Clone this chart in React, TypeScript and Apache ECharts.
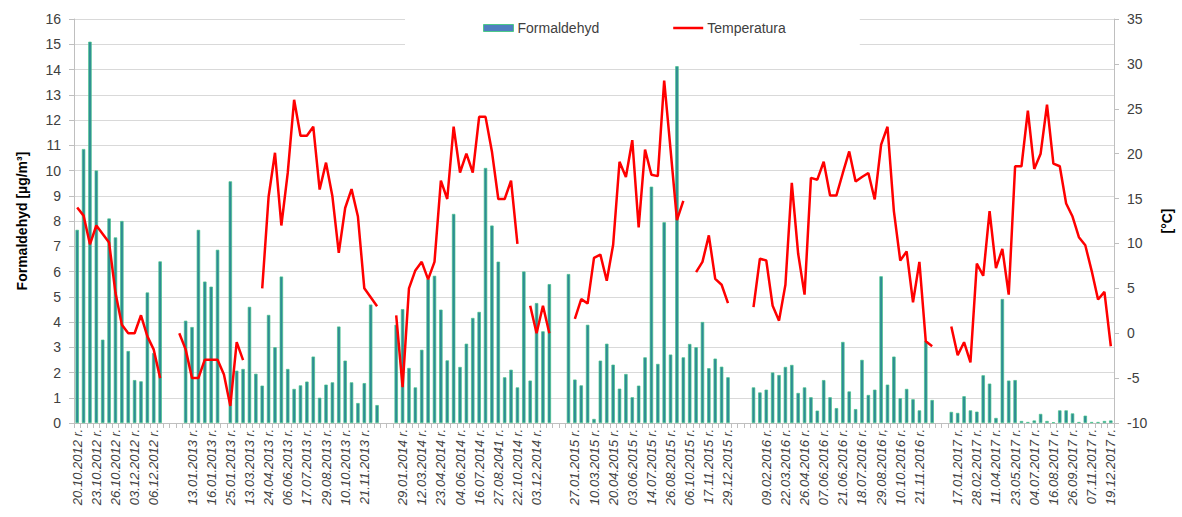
import React, { useEffect, useRef } from "react";
import * as echarts from "echarts";

// Tick labels shown on every third category ("" where no label is printed)
const tickLabels: string[] = [
  "20.10.2012 r.", "23.10.2012 r.", "26.10.2012 r.", "03.12.2012 r.", "06.12.2012 r.", "",
  "13.01.2013 r.", "16.01.2013 r.", "25.01.2013 r.", "13.03.2013 r.", "24.04.2013 r.", "06.06.2013 r.",
  "17.07.2013 r.", "29.08.2013 r.", "10.10.2013 r.", "21.11.2013 r.", "",
  "29.01.2014 r.", "12.03.2014 r.", "23.04.2014 r.", "04.06.2014 r.", "16.07.2014 r.", "27.08.2041 r.",
  "22.10.2014 r.", "03.12.2014 r.", "",
  "27.01.2015 r.", "10.03.2015 r.", "20.04.2015 r.", "03.06.2015 r.", "14.07.2015 r.", "26.08.2015 r.",
  "06.10.2015 r.", "17.11.2015 r.", "29.12.2015 r.", "",
  "09.02.2016 r.", "22.03.2016 r.", "26.04.2016 r.", "07.06.2016 r.", "21.06.2016 r.", "18.07.2016 r.",
  "29.08.2016 r,", "10.10.2016 r.", "21.11.2016 r.", "",
  "17.01.2017 r.", "28.02.2017 r.", "11.04.2017 r.", "23.05.2017 r.", "04.07.2017 r.", "16.08.2017 r.",
  "26.09.2017 r.", "07.11.2017 r.", "19.12.2017 r.",
];

const N = 163;
const categories: string[] = Array.from({ length: N }, (_, i) =>
  i % 3 === 0 ? tickLabels[i / 3] ?? "" : ""
);

// Formaldehyd [µg/m³]
const formaldehyd: (number | null)[] = [
  // 2012
  7.65, 10.85, 15.1, 10.0, 3.3, 8.1, 7.35, 8.0, 2.85, 1.7, 1.65, 5.17, 2.77, 6.4,
  null, null, null,
  // 2013
  4.05, 3.8, 7.65, 5.6, 5.4, 6.86, null, 9.57, 2.07, 2.14, 4.6, 1.95, 1.48, 4.28, 3.0, 5.8,
  2.14, 1.35, 1.49, 1.64, 2.63, 1.0, 1.52, 1.61, 3.82, 2.47, 1.61, 0.79, 1.58, 4.69, 0.71,
  null, null,
  // 2014
  3.89, 4.51, 2.18, 1.41, 2.9, 5.7, 5.83, 4.49, 2.48, 8.28, 2.22, 3.14, 4.16, 4.4, 10.1,
  7.82, 6.39, 1.81, 2.11, 1.41, 6.0, 1.68, 4.75, 3.63, 5.5,
  null, null,
  // 2015
  5.9, 1.72, 1.49, 3.89, 0.16, 2.47, 3.14, 2.31, 1.36, 1.94, 1.02, 1.48, 2.6, 9.36, 2.34,
  7.95, 2.71, 14.13, 2.6, 3.13, 3.0, 4.0, 2.17, 2.55, 2.23, 1.81,
  null, null, null,
  // 2016
  1.41, 1.21, 1.32, 2.0, 1.9, 2.22, 2.3, 1.19, 1.41, 1.02, 0.49, 1.7, 1.02, 0.59, 3.21,
  1.25, 0.55, 2.5, 1.11, 1.32, 5.81, 1.52, 2.63, 0.98, 1.35, 0.94, 0.5, 3.25, 0.91,
  null, null,
  // 2017
  0.44, 0.4, 1.06, 0.5, 0.45, 1.89, 1.56, 0.2, 4.91, 1.68, 1.7, 0.08, 0.04, 0.1, 0.36,
  0.08, 0.03, 0.5, 0.5, 0.38, 0.04, 0.29, 0.04, 0.04, 0.08, 0.1,
];

// Temperatura [°C]
const temperatura: (number | null)[] = [
  // 2012
  14.0, 13.1, 9.9, 12.0, 11.05, 10.1, 4.5, 0.95, 0.0, 0.0, 2.0, -0.35, -1.83, -5.0,
  null, null,
  // 2013
  0.0, -1.8, -5.0, -5.0, -2.95, -2.95, -2.95, -4.6, -8.1, -1.0, -3.0,
  null, null,
  5.0, 15.2, 20.1, 12.0, 17.85, 26.0, 22.0, 22.0, 23.0, 16.0, 19.0, 15.25, 8.95, 13.95,
  16.05, 13.0, 5.0, 4.0, 3.0,
  null, null,
  // 2014
  2.0, -6.0, 5.0, 7.0, 7.95, 6.0, 7.95, 17.0, 14.95, 23.0, 17.9, 20.0, 17.9, 24.1, 24.1,
  20.25, 14.95, 14.95, 17.0, 9.95,
  null,
  3.05, 0.0, 3.05, 0.0,
  null, null, null,
  // 2015
  1.6, 3.8, 3.3, 8.4, 8.75, 5.85, 9.85, 19.1, 17.4, 21.5, 11.8, 20.45, 17.65, 17.5, 28.15,
  20.45, 12.6, 14.75,
  null,
  6.8, 7.95, 10.9, 6.05, 5.4, 3.35,
  null, null, null,
  // 2016
  2.9, 8.3, 8.1, 3.05, 1.4, 5.4, 16.75, 8.85, 4.3, 17.3, 17.1, 19.1, 15.35, 15.35, 17.85,
  20.25, 16.9, 17.4, 17.85, 14.9, 21.0, 23.0, 13.6, 8.1, 9.1, 3.45, 7.95, -0.9, -1.45,
  null, null,
  // 2017
  0.75, -2.45, -1.0, -3.25, 7.75, 6.4, 13.6, 7.25, 9.4, 4.3, 18.6, 18.6, 24.8, 18.3, 20.0,
  25.45, 18.9, 18.6, 14.45, 13.0, 10.7, 9.8, 6.95, 3.75, 4.6, -1.45,
];

const FONT = "'Liberation Sans', Arial, sans-serif";
const TEXT = "#404040";
const AXIS = "#bfbfbf";

export default function App() {
  const ref = useRef<HTMLDivElement>(null);
  useEffect(() => {
    if (!ref.current) return;
    const chart = echarts.init(ref.current, undefined, { renderer: "svg" });
    chart.setOption({
      animation: false,
      backgroundColor: "#fff",
      textStyle: { fontFamily: FONT },
      grid: { left: 74, right: 59, top: 19, bottom: 94, containLabel: false },
      legend: {
        data: [
          {
            name: "Formaldehyd",
            icon: "rect",
            itemStyle: { color: "#4f7fbf", borderColor: "#4cc98a", borderWidth: 1 },
          },
          {
            name: "Temperatura",
            icon: "path://M0,0 L30,0 L30,2.5 L0,2.5 Z",
            itemStyle: { color: "#ff0000", borderWidth: 0 },
          },
        ],
        left: 405,
        top: 14,
        padding: [7, 74, 11, 78],
        backgroundColor: "#ffffff",
        itemWidth: 30,
        itemHeight: 7,
        itemGap: 74,
        symbolKeepAspect: true,
        textStyle: { fontSize: 14, color: TEXT, fontFamily: FONT, padding: [0, 0, 0, -1] },
      },
      xAxis: {
        type: "category",
        data: categories,
        boundaryGap: true,
        axisLine: { show: true, lineStyle: { color: AXIS, width: 1 } },
        axisTick: { show: true, interval: 0, length: 5, lineStyle: { color: AXIS } },
        axisLabel: {
          interval: 2,
          rotate: 90,
          fontStyle: "italic",
          fontSize: 13,
          color: TEXT,
          margin: 6,
          fontFamily: FONT,
        },
        splitLine: { show: false },
      },
      yAxis: [
        {
          type: "value",
          min: 0,
          max: 16,
          interval: 1,
          name: "Formaldehyd [µg/m³]",
          nameLocation: "middle",
          nameRotate: 90,
          nameGap: 45,
          nameTextStyle: { fontSize: 14, fontWeight: "bold", color: "#000", fontFamily: FONT },
          axisLine: { show: true, lineStyle: { color: AXIS } },
          axisTick: { show: true, length: 5, lineStyle: { color: AXIS } },
          axisLabel: { fontSize: 14, color: TEXT, margin: 13, fontFamily: FONT },
          splitLine: { show: true, lineStyle: { color: "#d9d9d9", width: 1 } },
        },
        {
          type: "value",
          position: "right",
          min: -10,
          max: 35,
          interval: 5,
          name: "[°C]",
          nameLocation: "middle",
          nameRotate: 90,
          nameGap: 46,
          nameTextStyle: { fontSize: 14, fontWeight: "bold", color: "#000", fontFamily: FONT },
          axisLine: { show: true, lineStyle: { color: AXIS } },
          axisTick: { show: true, length: 5, lineStyle: { color: AXIS } },
          axisLabel: { fontSize: 14, color: TEXT, margin: 13, fontFamily: FONT },
          splitLine: { show: false },
        },
      ],
      series: [
        {
          name: "Formaldehyd",
          type: "bar",
          yAxisIndex: 0,
          data: formaldehyd,
          barWidth: 3.4,
          itemStyle: { color: "#2f8a96", borderColor: "#45c488", borderWidth: 0.7 },
        },
        {
          name: "Temperatura",
          type: "line",
          yAxisIndex: 1,
          data: temperatura,
          symbol: "none",
          showSymbol: false,
          connectNulls: false,
          lineStyle: { color: "#ff0000", width: 2.5 },
          itemStyle: { color: "#ff0000" },
          z: 3,
        },
      ],
    });
    return () => chart.dispose();
  }, []);
  return (
    <div
      ref={ref}
      style={{ position: "fixed", left: 0, top: 0, width: 1182, height: 517, background: "#fff" }}
    />
  );
}
